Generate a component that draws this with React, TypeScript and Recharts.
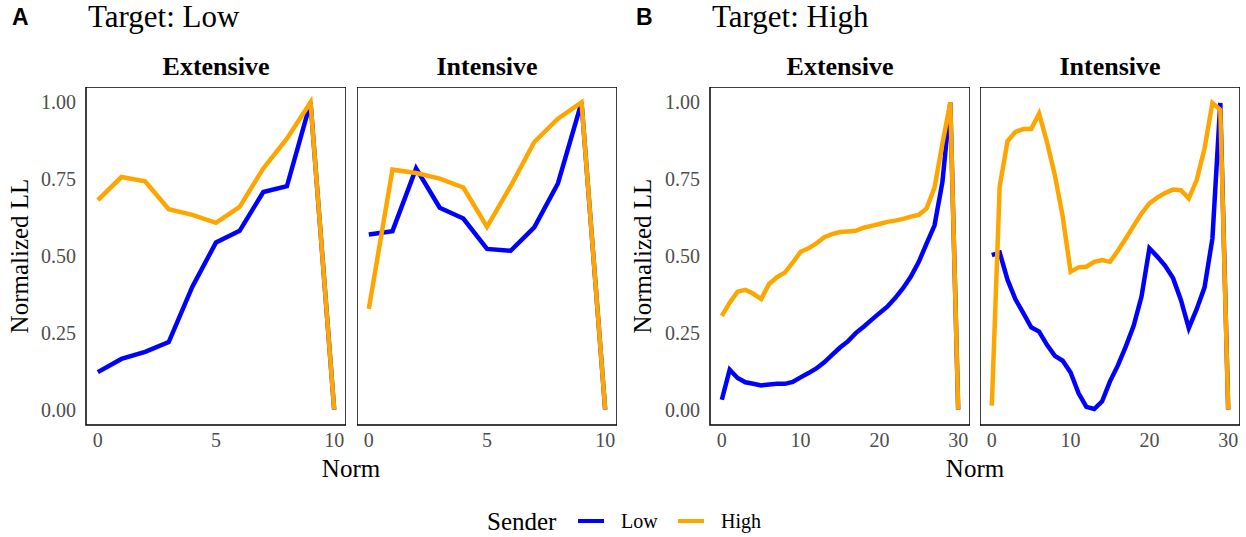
import React from 'react';
import { LineChart, Line, XAxis, YAxis, ReferenceArea } from 'recharts';

const SERIF = '"Liberation Serif", "Times New Roman", serif';
const SANS = '"Liberation Sans", Arial, sans-serif';
const BLUE = '#0000ff';
const ORANGE = '#ffa500';

// norm values on the x axis
const normShort = [0, 1, 2, 3, 4, 5, 6, 7, 8, 9, 10];
const normLong = [
  0, 1, 2, 3, 4, 5, 6, 7, 8, 9, 10, 11, 12, 13, 14, 15, 16, 17, 18, 19, 20,
  21, 22, 23, 24, 25, 26, 27, 28, 29, 30,
];

const ticksShort = [0, 5, 10];
const ticksLong = [0, 10, 20, 30];
const yTicks = [0, 0.25, 0.5, 0.75, 1];

// Target: Low
const lowExtSenderLow = [0.122, 0.165, 0.188, 0.22, 0.4, 0.544, 0.582, 0.708, 0.727, 1.0, 0.0];
const lowExtSenderHigh = [0.682, 0.757, 0.743, 0.652, 0.634, 0.608, 0.66, 0.785, 0.882, 1.0, 0.0];
const lowIntSenderLow = [0.57, 0.581, 0.785, 0.657, 0.622, 0.523, 0.517, 0.593, 0.736, 1.0, 0.0];
const lowIntSenderHigh = [0.328, 0.781, 0.77, 0.752, 0.723, 0.595, 0.727, 0.871, 0.947, 1.0, 0.0];

// Target: High
const highExtSenderLow = [
  0.032, 0.13, 0.103, 0.089, 0.084, 0.079, 0.082, 0.084, 0.084, 0.09, 0.105,
  0.119, 0.134, 0.154, 0.178, 0.202, 0.222, 0.249, 0.27, 0.292, 0.314,
  0.335, 0.363, 0.395, 0.433, 0.481, 0.541, 0.6, 0.741, 1.0, 0.0,
];
const highExtSenderHigh = [
  0.305, 0.348, 0.384, 0.39, 0.377, 0.36, 0.409, 0.431, 0.446, 0.478, 0.514,
  0.525, 0.541, 0.561, 0.571, 0.578, 0.58, 0.582, 0.592, 0.598, 0.604,
  0.611, 0.615, 0.621, 0.628, 0.634, 0.655, 0.723, 0.866, 1.0, 0.0,
];
const highIntSenderLow = [
  0.503, 0.511, 0.422, 0.359, 0.314, 0.268, 0.254, 0.211, 0.175, 0.159, 0.121,
  0.054, 0.009, 0.002, 0.027, 0.092, 0.144, 0.205, 0.273, 0.368, 0.525,
  0.498, 0.468, 0.428, 0.357, 0.265, 0.327, 0.398, 0.557, 0.998, 0.0,
];
const highIntSenderHigh = [
  0.013, 0.727, 0.874, 0.904, 0.913, 0.913, 0.963, 0.871, 0.763, 0.628, 0.449,
  0.463, 0.465, 0.481, 0.487, 0.481, 0.517, 0.557, 0.598, 0.638, 0.671,
  0.69, 0.705, 0.716, 0.714, 0.687, 0.747, 0.85, 0.998, 0.976, 0.0,
];

const BOX_W = 260;
const BOX_H = 338;
const BOX_TOP = 87;
const Y_AXIS_W = 80;

interface PanelProps {
  left: number;
  norm: number[];
  low: number[];
  high: number[];
  xTicks: number[];
  showY: boolean;
}

const Panel: React.FC<PanelProps> = ({ left, norm, low, high, xTicks, showY }) => {
  const data = norm.map((n, i) => ({ norm: n, low: low[i], high: high[i] }));
  const xMax = norm[norm.length - 1];
  const pad = xMax * 0.05;
  const yW = showY ? Y_AXIS_W : 0;
  const tickStyle = { fill: '#4d4d4d', fontSize: 20, fontFamily: SERIF };

  return (
    <div style={{ position: 'absolute', left: left - yW, top: BOX_TOP }}>
      <LineChart
        width={BOX_W + yW}
        height={BOX_H + 40}
        data={data}
        margin={{ top: 0, right: 0, bottom: 0, left: 0 }}
      >
        <XAxis
          dataKey="norm"
          type="number"
          domain={[-pad, xMax + pad]}
          ticks={xTicks}
          interval={0}
          tickLine={false}
          axisLine={false}
          height={40}
          tick={tickStyle}
          allowDataOverflow
        />
        <YAxis
          type="number"
          domain={[-0.05, 1.05]}
          ticks={yTicks}
          interval={0}
          hide={!showY}
          width={yW}
          tickLine={false}
          axisLine={false}
          tickMargin={4}
          tick={tickStyle}
          tickFormatter={(v: number) => v.toFixed(2)}
          allowDataOverflow
        />
        <ReferenceArea
          x1={-pad}
          x2={xMax + pad}
          y1={-0.05}
          y2={1.05}
          fill="none"
          fillOpacity={0}
          stroke="#000"
          strokeWidth={1.5}
          ifOverflow="visible"
        />
        <Line
          type="linear"
          dataKey="low"
          stroke={BLUE}
          strokeWidth={4.5}
          dot={false}
          isAnimationActive={false}
        />
        <Line
          type="linear"
          dataKey="high"
          stroke={ORANGE}
          strokeWidth={4.5}
          dot={false}
          isAnimationActive={false}
        />
      </LineChart>
    </div>
  );
};

const App: React.FC = () => {
  return (
    <div
      style={{
        position: 'absolute',
        left: 0,
        top: 0,
        width: 1246,
        height: 537,
        background: '#fff',
        overflow: 'hidden',
      }}
    >
      <Panel left={86} norm={normShort} low={lowExtSenderLow} high={lowExtSenderHigh} xTicks={ticksShort} showY />
      <Panel left={357} norm={normShort} low={lowIntSenderLow} high={lowIntSenderHigh} xTicks={ticksShort} showY={false} />
      <Panel left={710} norm={normLong} low={highExtSenderLow} high={highExtSenderHigh} xTicks={ticksLong} showY />
      <Panel left={980} norm={normLong} low={highIntSenderLow} high={highIntSenderHigh} xTicks={ticksLong} showY={false} />

      <svg
        width={1246}
        height={537}
        style={{ position: 'absolute', left: 0, top: 0, pointerEvents: 'none' }}
      >
        {/* panel tags and titles */}
        <text x={12} y={25} fontFamily={SANS} fontWeight="bold" fontSize={23}>A</text>
        <text x={88} y={27} fontFamily={SERIF} fontSize={31}>Target: Low</text>
        <text x={636} y={25} fontFamily={SANS} fontWeight="bold" fontSize={23}>B</text>
        <text x={712} y={27} fontFamily={SERIF} fontSize={31}>Target: High</text>

        {/* facet strips */}
        <text x={216} y={75} textAnchor="middle" fontFamily={SERIF} fontWeight="bold" fontSize={26}>Extensive</text>
        <text x={487} y={75} textAnchor="middle" fontFamily={SERIF} fontWeight="bold" fontSize={26}>Intensive</text>
        <text x={840} y={75} textAnchor="middle" fontFamily={SERIF} fontWeight="bold" fontSize={26}>Extensive</text>
        <text x={1110} y={75} textAnchor="middle" fontFamily={SERIF} fontWeight="bold" fontSize={26}>Intensive</text>

        {/* axis titles */}
        <text transform="translate(28,256) rotate(-90)" textAnchor="middle" fontFamily={SERIF} fontSize={25}>Normalized LL</text>
        <text transform="translate(651,256) rotate(-90)" textAnchor="middle" fontFamily={SERIF} fontSize={25}>Normalized LL</text>
        <text x={351} y={477} textAnchor="middle" fontFamily={SERIF} fontSize={25}>Norm</text>
        <text x={975} y={477} textAnchor="middle" fontFamily={SERIF} fontSize={25}>Norm</text>

        {/* legend */}
        <text x={487} y={530} fontFamily={SERIF} fontSize={25}>Sender</text>
        <line x1={578} x2={604} y1={521} y2={521} stroke={BLUE} strokeWidth={4} />
        <text x={621} y={528} fontFamily={SERIF} fontSize={20}>Low</text>
        <line x1={678} x2={704} y1={521} y2={521} stroke={ORANGE} strokeWidth={4} />
        <text x={721} y={528} fontFamily={SERIF} fontSize={20}>High</text>
      </svg>
    </div>
  );
};

export default App;
